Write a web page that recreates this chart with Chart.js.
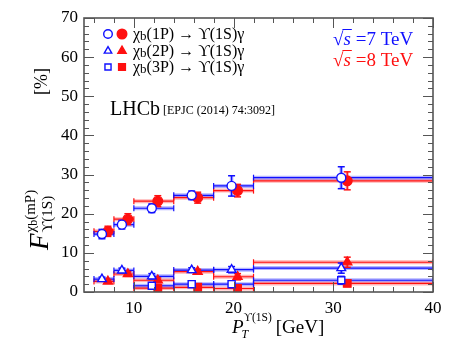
<!DOCTYPE html>
<html>
<head>
<meta charset="utf-8">
<script src="https://cdn.jsdelivr.net/npm/chart.js@4.4.1/dist/chart.umd.min.js"></script>
<style>
html,body{margin:0;padding:0;background:#fff;}
canvas{display:block;}
</style>
</head>
<body>
<canvas id="c" width="457" height="359"></canvas>
<script>
// ---- data ----
const binLo = [6, 8, 10, 14, 18, 22];
const binHi = [8, 10, 14, 18, 22, 40];
const x7 = [6.8, 8.8, 11.8, 15.8, 19.8, 30.8];
const x8 = [7.4, 9.4, 12.4, 16.4, 20.4, 31.4];

const p1_7 = [14.8, 17.2, 21.4, 24.7, 27.1, 29.2];
const p1_7e = [1.2, 1.1, 1.1, 1.1, 2.6, 2.8];
const p1_8 = [15.5, 18.6, 23.2, 24.1, 25.9, 28.4];
const p1_8e = [1.3, 1.4, 1.4, 1.4, 1.6, 2.3];

const p2_7 = [3.3, 5.5, 4.0, 5.6, 5.7, 6.1];
const p2_7e = [0.5, 0.6, 0.7, 0.6, 0.8, 1.3];
const p2_8 = [2.7, 4.6, 3.0, 5.2, 3.9, 7.6];
const p2_8e = [0.5, 0.6, 0.6, 0.6, 0.8, 1.3];

const p3_7 = [null, null, 1.6, 2.0, 2.0, 3.0];
const p3_7e = [null, null, 0.6, 0.6, 0.7, 1.0];
const p3_8 = [null, null, 1.0, 1.2, 0.9, 2.2];
const p3_8e = [null, null, 0.8, 0.5, 0.6, 0.8];

const xTickValues = [10, 20, 30, 40];
const yTickStep = 10;

const BLUE = '#1010ff', RED = '#ff1010';
const BLUE_L = 'rgba(40,40,255,0.35)', RED_L = 'rgba(255,40,40,0.35)';
const FONT = '"Liberation Serif", "DejaVu Serif", serif';
const UPS = '\u03D2';

// ---- dataset builders ----
function binSegments(vals) {
  const d = [];
  vals.forEach((v, i) => {
    if (v === null) return;
    d.push({x: binLo[i], y: v}, {x: binHi[i], y: v}, {x: binHi[i], y: null});
  });
  return d;
}
function errSegments(xs, vals, errs) {
  const d = [];
  vals.forEach((v, i) => {
    if (v === null) return;
    d.push({x: xs[i], y: v - errs[i]}, {x: xs[i], y: v + errs[i]}, {x: xs[i], y: null});
  });
  return d;
}
function pts(xs, vals) {
  const d = [];
  vals.forEach((v, i) => { if (v !== null) d.push({x: xs[i], y: v}); });
  return d;
}

const series = [
  {v: p1_7, e: p1_7e, xs: x7, c: BLUE, l: BLUE_L, style: 'circle', open: true, r: 4.5},
  {v: p2_7, e: p2_7e, xs: x7, c: BLUE, l: BLUE_L, style: 'triangle', open: true, r: 5},
  {v: p3_7, e: p3_7e, xs: x7, c: BLUE, l: BLUE_L, style: 'rect', open: true, r: 5},
  {v: p1_8, e: p1_8e, xs: x8, c: RED, l: RED_L, style: 'circle', open: false, r: 4.8},
  {v: p2_8, e: p2_8e, xs: x8, c: RED, l: RED_L, style: 'triangle', open: false, r: 5.2},
  {v: p3_8, e: p3_8e, xs: x8, c: RED, l: RED_L, style: 'rect', open: false, r: 5.3}
];

const datasets = [];
series.forEach(s => {
  datasets.push({type: 'line', data: binSegments(s.v), borderColor: s.l, borderWidth: 4,
    pointRadius: 0, spanGaps: false, order: 5, fill: false});
  datasets.push({type: 'line', data: binSegments(s.v), borderColor: s.c, borderWidth: 1.2,
    pointStyle: 'line', rotation: 90, pointRadius: 3, pointBorderColor: s.c, pointBorderWidth: 1.2,
    spanGaps: false, order: 4, fill: false});
  datasets.push({type: 'line', data: errSegments(s.xs, s.v, s.e), borderColor: s.l, borderWidth: 3.5,
    pointRadius: 0, spanGaps: false, order: 3, fill: false});
  datasets.push({type: 'line', data: errSegments(s.xs, s.v, s.e), borderColor: s.c, borderWidth: 1.3,
    pointStyle: 'line', pointRadius: 3.5, pointBorderColor: s.c, pointBorderWidth: 1.5,
    spanGaps: false, order: 2, fill: false});
  datasets.push({type: 'scatter', data: pts(s.xs, s.v), showLine: false,
    pointStyle: s.style, pointRadius: s.r, pointBorderColor: s.c, pointBorderWidth: 1.4,
    pointBackgroundColor: s.open ? '#ffffff' : s.c, order: 1});
});

// ---- decorations plugin (frame, inward ticks, texts) ----
const deco = {
  id: 'deco',
  afterDatasetsDraw(chart) {
    const ctx = chart.ctx, a = chart.chartArea, xs = chart.scales.x, ys = chart.scales.y;
    ctx.save();
    ctx.strokeStyle = '#555';
    ctx.lineWidth = 1;
    for (let v = 6; v <= 40; v += 2) {
      const px = Math.round(xs.getPixelForValue(v)) + 0.5;
      const L = (v % 10 === 0) ? 10 : 5;
      ctx.beginPath();
      ctx.moveTo(px, a.bottom); ctx.lineTo(px, a.bottom - L);
      ctx.moveTo(px, a.top); ctx.lineTo(px, a.top + L);
      ctx.stroke();
    }
    for (let v = 0; v <= 70; v += 2) {
      const py = Math.round(ys.getPixelForValue(v)) + 0.5;
      const L = (v % 10 === 0) ? 10 : 5;
      ctx.beginPath();
      ctx.moveTo(a.left, py); ctx.lineTo(a.left + L, py);
      ctx.moveTo(a.right, py); ctx.lineTo(a.right - L, py);
      ctx.stroke();
    }
    ctx.lineWidth = 1.6;
    ctx.strokeStyle = '#555';
    ctx.strokeRect(a.left, a.top, a.right - a.left, a.bottom - a.top);

    // legend
    const rows = [
      {y: 34, st: 'circle', t: '1P'},
      {y: 51, st: 'triangle', t: '2P'},
      {y: 67, st: 'rect', t: '3P'}
    ];
    rows.forEach(r => {
      const H = Chart.helpers;
      ctx.lineWidth = 1.4;
      ctx.strokeStyle = BLUE; ctx.fillStyle = '#fff';
      H.drawPoint(ctx, {pointStyle: r.st, radius: 4.3, rotation: 0, borderWidth: 1.4}, 108, r.y);
      ctx.strokeStyle = RED; ctx.fillStyle = RED;
      H.drawPoint(ctx, {pointStyle: r.st, radius: 4.8, rotation: 0, borderWidth: 1.4}, 122, r.y);
      ctx.fillStyle = '#000';
      ctx.textBaseline = 'alphabetic';
      let x = 133;
      const base = r.y + 5;
      ctx.font = '16px ' + FONT;
      ctx.fillText('\u03C7', x, base); x += ctx.measureText('\u03C7').width;
      ctx.font = '13px ' + FONT;
      ctx.fillText('b', x, base + 1); x += ctx.measureText('b').width;
      ctx.font = '16px ' + FONT;
      const rest = '(' + r.t + ') \u2192 ' + UPS + '(1S)\u03B3';
      ctx.fillText(rest, x, base);
    });

    // sqrt(s) labels
    function sqrtLabel(y, txt, col) {
      ctx.fillStyle = col; ctx.strokeStyle = col;
      ctx.font = '19px ' + FONT;
      let x = 333;
      ctx.fillText('\u221A', x, y); x += ctx.measureText('\u221A').width;
      ctx.font = 'italic 19px ' + FONT;
      const sw = ctx.measureText('s').width;
      ctx.fillText('s', x, y);
      ctx.lineWidth = 1;
      ctx.beginPath(); ctx.moveTo(x - 1, y - 15.5); ctx.lineTo(x + sw + 1, y - 15.5); ctx.stroke();
      x += sw + 5;
      ctx.font = '19px ' + FONT;
      ctx.fillText(txt, x, y);
    }
    sqrtLabel(45, '=7 TeV', BLUE);
    sqrtLabel(66, '=8 TeV', RED);

    // LHCb
    ctx.fillStyle = '#000';
    ctx.font = '20px ' + FONT;
    ctx.fillText('LHCb', 110, 115);
    const lw = ctx.measureText('LHCb').width;
    ctx.font = '12px ' + FONT;
    ctx.fillText('[EPJC (2014) 74:3092]', 110 + lw + 3, 114);

    // x-axis title
    let xx = 232, xb = 333;
    ctx.font = 'italic 19px ' + FONT;
    ctx.fillText('P', xx, xb);
    const pw = ctx.measureText('P').width;
    ctx.font = 'italic 12px ' + FONT;
    ctx.fillText('T', xx + pw - 2, xb + 5);
    ctx.font = '11.5px ' + FONT;
    ctx.fillText(UPS + '(1S)', xx + pw, xb - 12);
    const uw = ctx.measureText(UPS + '(1S)').width;
    ctx.font = '19px ' + FONT;
    ctx.fillText('[GeV]', xx + pw + uw + 4, xb);

    // y-axis title (rotated)
    ctx.save();
    ctx.translate(48, 250);
    ctx.rotate(-Math.PI / 2);
    ctx.font = 'italic 27px ' + FONT;
    ctx.fillText('F', 0, 0);
    const fw = ctx.measureText('F').width;
    ctx.font = '15px ' + FONT;
    let sx = fw + 1;
    ctx.fillText('\u03C7', sx, -13);
    let chw = ctx.measureText('\u03C7').width;
    ctx.font = '12px ' + FONT;
    ctx.fillText('b', sx + chw, -11);
    let bw = ctx.measureText('b').width;
    ctx.font = '15px ' + FONT;
    ctx.fillText('(mP)', sx + chw + bw, -13);
    ctx.fillText(UPS + '(1S)', sx, 4);
    ctx.font = '18px ' + FONT;
    ctx.fillText('[%]', 155, -1);
    ctx.restore();

    ctx.restore();
  }
};

new Chart(document.getElementById('c'), {
  type: 'scatter',
  data: {datasets},
  options: {
    responsive: false,
    animation: false,
    layout: {padding: {left: 0, right: 24, top: 18, bottom: 0}},
    plugins: {legend: {display: false}, tooltip: {enabled: false}},
    elements: {line: {tension: 0}},
    scales: {
      x: {
        type: 'linear', min: 5, max: 40,
        grid: {display: false, drawTicks: false},
        border: {display: false},
        afterBuildTicks: s => { s.ticks = xTickValues.map(v => ({value: v})); },
        afterFit: s => { s.height = 67; },
        ticks: {font: {family: FONT, size: 17}, color: '#000', padding: 6, maxRotation: 0}
      },
      y: {
        type: 'linear', min: 0, max: 70,
        grid: {display: false, drawTicks: false},
        border: {display: false},
        afterFit: s => { s.width = 84; },
        ticks: {stepSize: yTickStep, font: {family: FONT, size: 17}, color: '#000', padding: 6}
      }
    }
  },
  plugins: [deco]
});
</script>
</body>
</html>
